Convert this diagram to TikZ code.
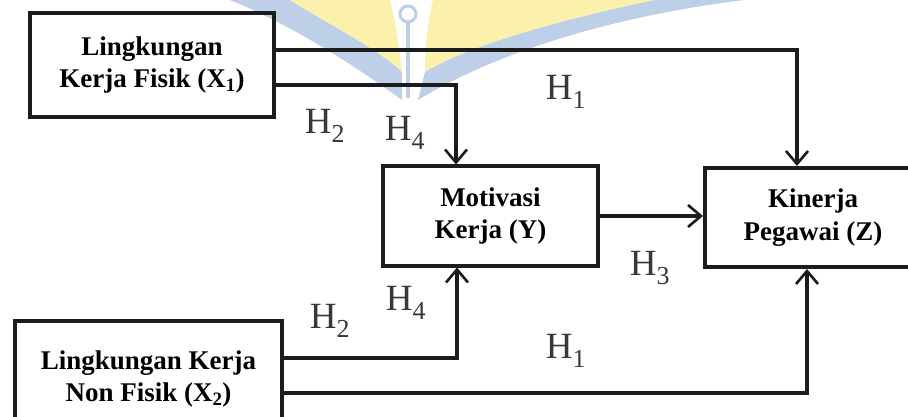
\documentclass[tikz,border=0pt]{standalone}
\usepackage{fontspec}
\setmainfont{Liberation Serif}
\usetikzlibrary{arrows.meta}
\definecolor{wmblue}{RGB}{190,207,232}
\definecolor{wmyellow}{RGB}{251,241,172}
\definecolor{ink}{RGB}{28,28,28}
\begin{document}
\begin{tikzpicture}[x=1pt,y=-1pt,
  box/.style={draw=ink, line width=4pt, inner sep=0pt, align=center,
              font=\fontsize{27}{32.5}\selectfont\bfseries},
  conn/.style={draw=ink, line width=3.8pt,
               -{Straight Barb[length=13pt,width=22pt,line width=2.6pt]}},
  hlab/.style={font=\fontsize{37}{37}\selectfont, text=black!78, inner sep=0pt}]
\useasboundingbox (0,0) rectangle (908,417);
\clip (0,0) rectangle (908,417);
\fill[white] (0,0) rectangle (908,417);
% faint watermark
\fill[wmblue] (230,0) -- (290,0) .. controls (330,25) and (380,50) .. (402,72)
  -- (402,100) .. controls (340,55) and (280,20) .. (230,0) -- cycle;
\fill[wmyellow] (290,0) .. controls (330,25) and (380,50) .. (402,72)
  .. controls (400,50) and (395,20) .. (390,0) -- cycle;
\fill[wmyellow] (433,0) -- (655,0) .. controls (560,20) and (470,45) .. (425,72)
  .. controls (425,45) and (428,20) .. (433,0) -- cycle;
\fill[wmblue] (418,100) .. controls (500,50) and (620,15) .. (745,0) -- (655,0)
  .. controls (560,20) and (470,45) .. (425,72) -- cycle;
\draw[wmblue, line width=4pt] (408,22) -- (408,98);
\draw[wmblue, line width=3pt] (408,14) circle (8);
% boxes
\node[box, minimum width=244pt, minimum height=104pt] (X1) at (152,65)
  {Lingkungan\\Kerja Fisik (X\textsubscript{1})};
\node[box, minimum width=215pt, minimum height=99pt] (Y) at (490.5,216)
  {Motivasi\\Kerja (Y)};
\node[box, minimum width=216pt, minimum height=99pt] (Z) at (813,217.5)
  {Kinerja\\Pegawai (Z)};
\node[box, minimum width=267pt, minimum height=116pt] (X2) at (148.5,379)
  {Lingkungan Kerja\\Non Fisik (X\textsubscript{2})};
% connectors
\coordinate (a1) at (797,50);
\coordinate (a2) at (456,85);
\coordinate (b1) at (457,358);
\coordinate (b2) at (807,393);
\draw[conn] (X1.east |- a1) -- (a1) -- (a1 |- Z.north);
\draw[conn] (X1.east |- a2) -- (a2) -- (a2 |- Y.north);
\draw[conn] (Y.east) -- (Y.east -| Z.west);
\draw[conn] (X2.east |- b1) -- (b1) -- (b1 |- Y.south);
\draw[conn] (X2.east |- b2) -- (b2) -- (b2 |- Z.south);
% labels
\node[hlab] (h1a) at (566,92) {H\textsubscript{1}};
\node[hlab] (h2a) at (325,126) {H\textsubscript{2}};
\node[hlab] (h4a) at (405,133) {H\textsubscript{4}};
\node[hlab] (h3) at (650,268) {H\textsubscript{3}};
\node[hlab] (h2b) at (330,321) {H\textsubscript{2}};
\node[hlab] (h4b) at (406,303) {H\textsubscript{4}};
\node[hlab] (h1b) at (566,351) {H\textsubscript{1}};
\end{tikzpicture}
\end{document}
